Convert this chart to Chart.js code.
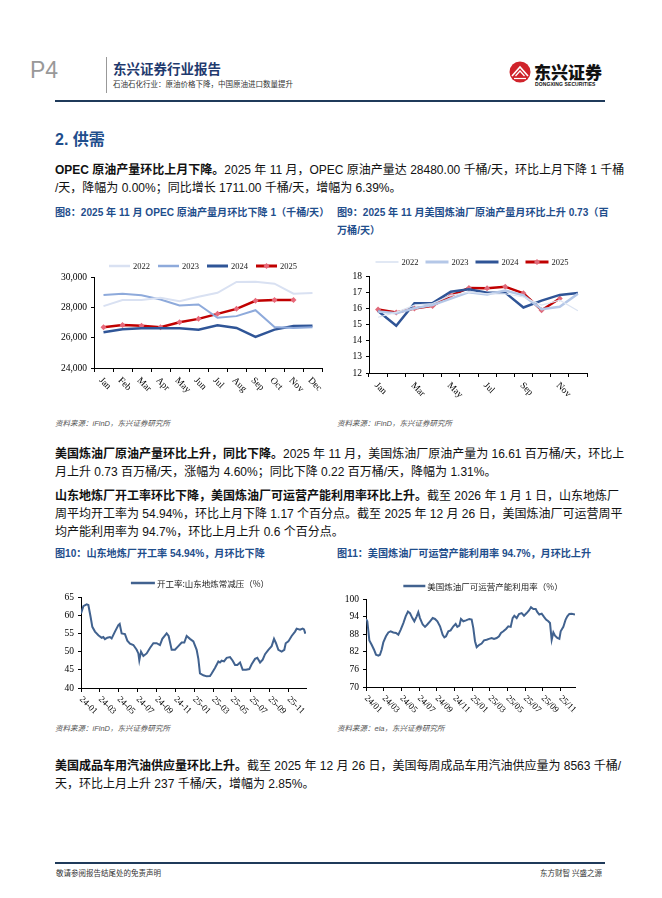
<!DOCTYPE html>
<html lang="zh">
<head>
<meta charset="UTF-8" />
<title>石油石化行业 P4</title>
<script src="https://cdn.jsdelivr.net/npm/chart.js"></script>
<style>
	body { margin: 0; background: #fff; }
	#page { position: relative; width: 662px; height: 898px; overflow: hidden;
		font-family: "Liberation Sans", "Noto Sans CJK SC", sans-serif; color: #111; }
	.abs { position: absolute; white-space: nowrap; }
	.ln { position: absolute; left: 55px; width: 550px; height: 19px; line-height: 19px;
		font-size: 12px; white-space: nowrap; text-align: justify; text-align-last: justify; }
	.ln.end { text-align-last: left; }
	.ln b { font-weight: bold; }
	.cap { position: absolute; font-size: 10.1px; font-weight: bold; color: #1f4e8c; white-space: nowrap; line-height: 18px; }
	.src { position: absolute; font-size: 7.5px; font-style: italic; color: #555; white-space: nowrap; }
	.box { position: absolute; }
</style>
</head>
<body>
<div id="page">
	<!-- header -->
	<div class="abs" style="left:30px;top:57px;font-size:23px;color:#999;">P4</div>
	<div class="abs" style="left:106px;top:57px;width:1px;height:36px;background:#999;"></div>
	<div class="abs" style="left:113px;top:58px;font-size:13.5px;font-weight:bold;color:#1f3a6e;">东兴证券行业报告</div>
	<div class="abs" style="left:113px;top:78px;font-size:7.5px;color:#333;">石油石化行业：原油价格下降，中国原油进口数量提升</div>
	<svg class="abs" style="left:509px;top:61px;" width="22" height="22" viewBox="0 0 22 22">
		<circle cx="11" cy="11" r="10.5" fill="#d0232b" />
		<path d="M3 15 L11 6 L19 15" stroke="#fff" stroke-width="1.6" fill="none" />
		<path d="M6.5 15 L11 10 L15.5 15" stroke="#fff" stroke-width="1.2" fill="none" />
		<path d="M5 17.5 h12" stroke="#fff" stroke-width="1.2" />
	</svg>
	<div class="abs" style="left:534px;top:59px;font-size:17px;font-weight:900;color:#111;">东兴证券</div>
	<div class="abs" style="left:535px;top:81px;font-size:5px;font-weight:bold;color:#111;letter-spacing:0.1px;">DONGXING SECURITIES</div>
	<div class="abs" style="left:55px;top:100px;width:550px;height:1.5px;background:#1f3a5a;"></div>

	<div class="abs" style="left:55px;top:126px;font-size:16px;font-weight:bold;color:#1f4e8c;">2. 供需</div>

	<div class="ln" style="top:161px;"><b>OPEC 原油产量环比上月下降。</b>2025 年 11 月，OPEC 原油产量达 28480.00 千桶/天，环比上月下降 1 千桶</div>
	<div class="ln end" style="top:179px;">/天，降幅为 0.00%；同比增长 1711.00 千桶/天，增幅为 6.39%。</div>

	<div class="cap" style="left:55px;top:204px;">图8：2025 年 11 月 OPEC 原油产量月环比下降 1（千桶/天）</div>
	<div class="cap" style="left:337px;top:204px;">图9：2025 年 11 月美国炼油厂原油产量月环比上升 0.73（百<br>万桶/天）</div>

	<div class="box" style="left:55px;top:250px;"><canvas id="opecChart" width="275" height="155"></canvas></div>
	<div class="box" style="left:335px;top:250px;"><canvas id="usChart" width="270" height="155"></canvas></div>

	<div class="src" style="left:55px;top:417px;">资料来源：iFinD，东兴证券研究所</div>
	<div class="src" style="left:337px;top:417px;">资料来源：iFinD，东兴证券研究所</div>

	<div class="ln" style="top:445px;"><b>美国炼油厂原油产量环比上升，同比下降。</b>2025 年 11 月，美国炼油厂原油产量为 16.61 百万桶/天，环比上</div>
	<div class="ln end" style="top:463px;">月上升 0.73 百万桶/天，涨幅为 4.60%；同比下降 0.22 百万桶/天，降幅为 1.31%。</div>

	<div class="ln" style="top:487px;"><b>山东地炼厂开工率环比下降，美国炼油厂可运营产能利用率环比上升。</b>截至 2026 年 1 月 1 日，山东地炼厂</div>
	<div class="ln" style="top:505px;">周平均开工率为 54.94%，环比上月下降 1.17 个百分点。截至 2025 年 12 月 26 日，美国炼油厂可运营周平</div>
	<div class="ln end" style="top:523px;">均产能利用率为 94.7%，环比上月上升 0.6 个百分点。</div>

	<div class="cap" style="left:55px;top:545px;">图10：山东地炼厂开工率 54.94%，月环比下降</div>
	<div class="cap" style="left:337px;top:545px;">图11：美国炼油厂可运营产能利用率 94.7%，月环比上升</div>

	<div class="box" style="left:55px;top:570px;"><canvas id="sdChart" width="275" height="150"></canvas></div>
	<div class="box" style="left:335px;top:570px;"><canvas id="utilChart" width="270" height="150"></canvas></div>

	<div class="src" style="left:55px;top:722px;">资料来源：iFinD，东兴证券研究所</div>
	<div class="src" style="left:337px;top:722px;">资料来源：eia，东兴证券研究所</div>

	<div class="ln" style="top:757px;"><b>美国成品车用汽油供应量环比上升。</b>截至 2025 年 12 月 26 日，美国每周成品车用汽油供应量为 8563 千桶/</div>
	<div class="ln end" style="top:775px;">天，环比上月上升 237 千桶/天，增幅为 2.85%。</div>

	<!-- footer -->
	<div class="abs" style="left:55px;top:862px;width:550px;height:1.5px;background:#1f3a5a;"></div>
	<div class="abs" style="left:56px;top:867px;font-size:7.5px;color:#333;">敬请参阅报告结尾处的免责声明</div>
	<div class="abs" style="left:540px;top:867px;font-size:7.5px;color:#333;">东方财智 兴盛之源</div>
</div>

<script>
	// ---- data ----
	const months = ["Jan", "Feb", "Mar", "Apr", "May", "Jun", "Jul", "Aug", "Sep", "Oct", "Nov", "Dec"];

	// OPEC crude output, kb/d
	const opec2022 = [28080, 28480, 28480, 28630, 28410, 28700, 28960, 29670, 29690, 29560, 28900, 28940];
	const opec2023 = [28810, 28900, 28790, 28520, 28120, 28190, 27310, 27420, 27810, 26710, 26640, 26690];
	const opec2024 = [26360, 26560, 26620, 26620, 26620, 26530, 26820, 26640, 26050, 26530, 26770, 26780];
	const opec2025 = [26690, 26840, 26780, 26690, 27020, 27240, 27570, 27900, 28430, 28481, 28480];

	// US refinery crude input, mb/d
	const us2022 = [15.45, 15.75, 16.2, 16.3, 16.8, 17.0, 16.9, 16.9, 16.7, 16.2, 16.5, 15.85];
	const us2023 = [15.8, 15.7, 16.0, 16.2, 16.6, 17.0, 16.85, 17.1, 16.8, 15.95, 16.1, 16.9];
	const us2024 = [15.84, 14.92, 16.32, 16.32, 17.03, 17.18, 16.97, 16.97, 16.05, 16.48, 16.83, 16.95];
	const us2025 = [15.93, 15.74, 15.99, 16.15, 16.79, 17.26, 17.24, 17.34, 16.93, 15.88, 16.61];
	const usTickLabels = ["Jan", "Mar", "May", "Jul", "Sep", "Nov"];
	const usTickIndex = [0, 2, 4, 6, 8, 10];

	// Shandong teapot run rate (%), x = months since 2024-01
	const sdMonth = [0.00, 0.25, 0.60, 0.78, 1.02, 1.20, 1.48, 1.84, 2.19, 2.37, 2.54, 2.79, 3.07, 3.25, 3.60, 3.96,
		4.10, 4.31, 4.66, 4.91, 5.19, 5.55, 5.90, 6.08, 6.18, 6.36, 6.61, 6.96, 7.31, 7.67, 8.02, 8.37, 8.62, 9.08,
		9.29, 9.61, 9.96, 10.32, 10.67, 10.95, 11.20, 11.55, 11.91, 12.26, 12.44, 12.61, 12.97, 13.32, 13.67, 13.85,
		14.20, 14.56, 14.73, 14.91, 15.16, 15.44, 15.80, 16.08, 16.33, 16.57, 16.86, 17.14, 17.49, 17.84, 18.09,
		18.45, 18.69, 18.98, 19.26, 19.51, 19.86, 20.21, 20.46, 20.67, 20.92, 21.27, 21.55, 21.70, 21.98, 22.33,
		22.69, 22.86, 23.22, 23.50, 23.64, 23.78];
	const sdRate = [60.5, 62.5, 63.0, 62.8, 59.5, 56.8, 55.5, 54.5, 53.8, 54.0, 53.4, 53.8, 54.0, 53.6, 55.5, 57.3,
		57.6, 55.0, 54.8, 53.0, 52.2, 51.8, 50.5, 49.5, 47.6, 50.0, 48.8, 49.5, 51.0, 52.3, 52.3, 51.8, 53.5, 55.0,
		54.3, 50.5, 50.5, 51.5, 52.5, 52.5, 54.3, 53.5, 52.8, 50.5, 48.0, 44.0, 43.5, 43.2, 43.3, 44.0,
		45.5, 47.3, 47.0, 47.5, 47.3, 48.3, 48.5, 47.5, 46.3, 46.3, 47.0, 45.0, 45.0, 45.2, 46.5,
		48.0, 48.3, 47.0, 47.8, 49.3, 50.5, 51.5, 53.5, 52.3, 50.5, 50.0, 50.5, 52.3, 52.8, 54.3,
		55.5, 56.3, 56.0, 56.3, 56.11, 54.94];
	const sdTickLabels = ["24-01", "24-03", "24-05", "24-07", "24-09", "24-11", "25-01", "25-03", "25-05", "25-07", "25-09", "25-11"];

	// US refinery operable utilisation (%), x = months since 2024-01
	const utilMonth = [0.00, 0.15, 0.38, 0.64, 0.91, 1.13, 1.40, 1.58, 1.77, 1.96, 2.26, 2.53, 2.79, 3.09, 3.40, 3.66,
		3.92, 4.23, 4.49, 4.75, 4.98, 5.25, 5.47, 5.74, 5.92, 6.11, 6.42, 6.68, 6.94, 7.25, 7.55, 7.81, 8.08, 8.38,
		8.68, 8.87, 9.06, 9.32, 9.58, 9.89, 10.15, 10.34, 10.57, 10.75, 11.02, 11.32, 11.70, 11.96, 12.15, 12.34,
		12.53, 12.83, 13.09, 13.36, 13.66, 13.92, 14.23, 14.49, 14.79, 15.06, 15.28, 15.55, 15.85, 16.11, 16.38,
		16.60, 16.79, 17.06, 17.32, 17.62, 17.89, 18.19, 18.45, 18.68, 18.94, 19.21, 19.40, 19.62, 19.89, 20.15,
		20.38, 20.64, 20.83, 21.02, 21.21, 21.40, 21.66, 21.89, 22.04, 22.34, 22.60, 22.79, 23.02, 23.28, 23.66];
	const utilRate = [93.2, 92.4, 85.9, 84.4, 82.7, 81.0, 80.7, 81.0, 82.7, 85.2, 87.3, 88.6, 89.0, 88.6, 88.4, 87.8,
		89.5, 91.8, 94.1, 95.7, 95.2, 93.5, 92.4, 94.1, 95.5, 93.5, 91.3, 90.5, 91.3, 92.4, 93.5, 93.2, 92.4, 90.7,
		87.8, 86.9, 87.3, 89.0, 89.3, 90.7, 91.5, 90.5, 90.9, 93.2, 92.4, 92.7, 93.2, 93.0, 90.1, 85.6,
		83.6, 84.4, 84.8, 85.9, 86.1, 86.4, 86.7, 86.4, 86.7, 87.3, 88.4, 89.0, 89.8, 90.7, 90.5,
		93.5, 94.3, 93.5, 94.9, 95.2, 94.3, 95.2, 96.1, 97.2, 96.6, 96.6, 95.5, 94.7, 95.0, 93.9,
		93.0, 92.4, 91.8, 86.1, 88.6, 87.5, 86.7, 86.4, 89.0, 90.5, 93.0, 94.1, 94.9, 95.0, 94.7];
	const utilTickLabels = ["24/01", "24/03", "24/05", "24/07", "24/09", "24/11", "25/01", "25/03", "25/05", "25/07", "25/09", "25/11"];
	const biMonthTicks = [0, 2, 4, 6, 8, 10, 12, 14, 16, 18, 20, 22];

	const SERIF = "'Liberation Serif', 'Times New Roman', serif";
	const CJK = "'Noto Sans CJK SC', sans-serif";

	// legend: short line sample + text, centred at cx
	const lineLegend = {
		id: "lineLegend",
		afterDraw(chart, args, opts) {
			const ctx = chart.ctx;
			const sets = chart.data.datasets;
			ctx.save();
			ctx.font = opts.font;
			ctx.textBaseline = "middle";
			const widths = sets.map((d) => opts.box + opts.gap + ctx.measureText(d.label).width);
			const total = widths.reduce((a, b) => a + b, 0) + opts.spacing * (sets.length - 1);
			let x = opts.cx - total / 2;
			sets.forEach((d, i) => {
				ctx.strokeStyle = d.borderColor;
				ctx.lineWidth = d.borderWidth + 0.5;
				ctx.beginPath();
				ctx.moveTo(x, opts.y);
				ctx.lineTo(x + opts.box, opts.y);
				ctx.stroke();
				if (d.pointRadius > 0) {
					const r = d.pointRadius, cx = x + opts.box / 2;
					ctx.fillStyle = d.pointBackgroundColor;
					ctx.beginPath();
					ctx.moveTo(cx, opts.y - r);
					ctx.lineTo(cx + r, opts.y);
					ctx.lineTo(cx, opts.y + r);
					ctx.lineTo(cx - r, opts.y);
					ctx.closePath();
					ctx.fill();
				}
				ctx.fillStyle = opts.color;
				ctx.fillText(d.label, x + opts.box + opts.gap, opts.y + 0.5);
				x += widths[i] + opts.spacing;
			});
			ctx.restore();
		},
	};

	// x labels slanted downwards to the right, as in the report
	const slantLabels = {
		id: "slantLabels",
		afterDraw(chart, args, opts) {
			const ctx = chart.ctx;
			const sx = chart.scales.x;
			ctx.save();
			ctx.font = opts.font;
			ctx.fillStyle = "#000";
			ctx.textAlign = "left";
			ctx.textBaseline = "middle";
			opts.labels.forEach((t, i) => {
				ctx.save();
				ctx.translate(sx.getPixelForValue(opts.at[i]) + opts.dx, sx.top + opts.dy);
				ctx.rotate(Math.PI / 4);
				ctx.fillText(t, 0, 0);
				ctx.restore();
			});
			ctx.restore();
		},
	};

	function yAxis(min, max, step, width) {
		return {
			min: min,
			max: max,
			ticks: { stepSize: step, color: "#000", padding: 4, font: { family: SERIF, size: 9.5 } },
			grid: { drawOnChartArea: false, tickLength: 3, color: "#000" },
			border: { color: "#000" },
			afterFit: (s) => { s.width = width; },
		};
	}

	function categoryX() {
		return {
			offset: true,
			ticks: { display: false },
			grid: { offset: true, drawOnChartArea: false, tickLength: 4, color: "#000" },
			border: { color: "#000" },
			afterFit: (s) => { s.height = 4; },
		};
	}

	function monthX(max) {
		return {
			type: "linear",
			min: 0,
			max: max,
			afterBuildTicks: (s) => { s.ticks = biMonthTicks.map((v) => ({ value: v })); },
			ticks: { display: false },
			grid: { drawOnChartArea: false, tickLength: 4, color: "#000" },
			border: { color: "#000" },
			afterFit: (s) => { s.height = 4; },
		};
	}

	function yearLine(label, data, color, width, marker) {
		return {
			label: label,
			data: data,
			borderColor: color,
			borderWidth: width,
			tension: 0,
			fill: false,
			pointRadius: marker ? 3 : 0,
			pointStyle: "rectRot",
			pointBackgroundColor: marker || color,
			pointBorderColor: marker || color,
			pointBorderWidth: 0,
		};
	}

	const baseOptions = {
		responsive: false,
		animation: false,
		events: [],
	};

	// Fig 8: OPEC
	new Chart(document.getElementById("opecChart"), {
		type: "line",
		data: {
			labels: months,
			datasets: [
				yearLine("2022", opec2022, "#d9e1f2", 2),
				yearLine("2023", opec2023, "#8eaadb", 2),
				yearLine("2024", opec2024, "#2f5597", 2.5),
				yearLine("2025", opec2025, "#c00000", 2.5, "#e8697a"),
			],
		},
		options: {
			...baseOptions,
			layout: { padding: { left: 0, right: 8, top: 27, bottom: 33 } },
			plugins: {
				legend: { display: false },
				tooltip: { enabled: false },
				lineLegend: { cx: 148, y: 16, font: "8.5px " + SERIF, box: 21, gap: 3, spacing: 8, color: "#222" },
				slantLabels: { labels: months, at: months.map((m, i) => i), font: "9.5px " + SERIF, dx: -3, dy: 11 },
			},
			scales: { x: categoryX(), y: yAxis(24000, 30000, 2000, 39) },
		},
		plugins: [lineLegend, slantLabels],
	});

	// Fig 9: US refinery crude input
	new Chart(document.getElementById("usChart"), {
		type: "line",
		data: {
			labels: months,
			datasets: [
				yearLine("2022", us2022, "#dce4f2", 1.2),
				yearLine("2023", us2023, "#b4c7e7", 2.5),
				yearLine("2024", us2024, "#2f5496", 2.5),
				yearLine("2025", us2025, "#c00000", 2.5, "#e06a7a"),
			],
		},
		options: {
			...baseOptions,
			layout: { padding: { left: 0, right: 18, top: 26, bottom: 28 } },
			plugins: {
				legend: { display: false },
				tooltip: { enabled: false },
				lineLegend: { cx: 137, y: 12, font: "8.5px " + SERIF, box: 23, gap: 3, spacing: 7, color: "#222" },
				slantLabels: { labels: usTickLabels, at: usTickIndex, font: "9.5px " + SERIF, dx: -2, dy: 11 },
			},
			scales: { x: categoryX(), y: yAxis(12, 18, 1, 34) },
		},
		plugins: [lineLegend, slantLabels],
	});

	// Fig 10: Shandong run rate
	new Chart(document.getElementById("sdChart"), {
		type: "line",
		data: {
			datasets: [{
				label: "开工率:山东地炼常减压（%）",
				data: sdMonth.map((m, i) => ({ x: m, y: sdRate[i] })),
				borderColor: "#41628f",
				borderWidth: 2,
				pointRadius: 0,
				tension: 0,
			}],
		},
		options: {
			...baseOptions,
			layout: { padding: { left: 0, right: 24, top: 27, bottom: 28 } },
			plugins: {
				legend: { display: false },
				tooltip: { enabled: false },
				lineLegend: { cx: 145, y: 13, font: "8.5px " + CJK, box: 24, gap: 2, spacing: 0, color: "#222" },
				slantLabels: { labels: sdTickLabels, at: biMonthTicks, font: "9px " + SERIF, dx: 0, dy: 10 },
			},
			scales: { x: monthX(23.85), y: yAxis(40, 65, 5, 26) },
		},
		plugins: [lineLegend, slantLabels],
	});

	// Fig 11: US refinery utilisation
	new Chart(document.getElementById("utilChart"), {
		type: "line",
		data: {
			datasets: [{
				label: "美国炼油厂可运营产能利用率（%）",
				data: utilMonth.map((m, i) => ({ x: m, y: utilRate[i] })),
				borderColor: "#41628f",
				borderWidth: 2,
				pointRadius: 0,
				tension: 0,
			}],
		},
		options: {
			...baseOptions,
			layout: { padding: { left: 0, right: 30, top: 29, bottom: 29 } },
			plugins: {
				legend: { display: false },
				tooltip: { enabled: false },
				lineLegend: { cx: 148, y: 16, font: "8.5px " + CJK, box: 22, gap: 2, spacing: 0, color: "#222" },
				slantLabels: { labels: utilTickLabels, at: biMonthTicks, font: "9px " + SERIF, dx: 0, dy: 10 },
			},
			scales: { x: monthX(23.66), y: yAxis(70, 100, 6, 31) },
		},
		plugins: [lineLegend, slantLabels],
	});
</script>
</body>
</html>
